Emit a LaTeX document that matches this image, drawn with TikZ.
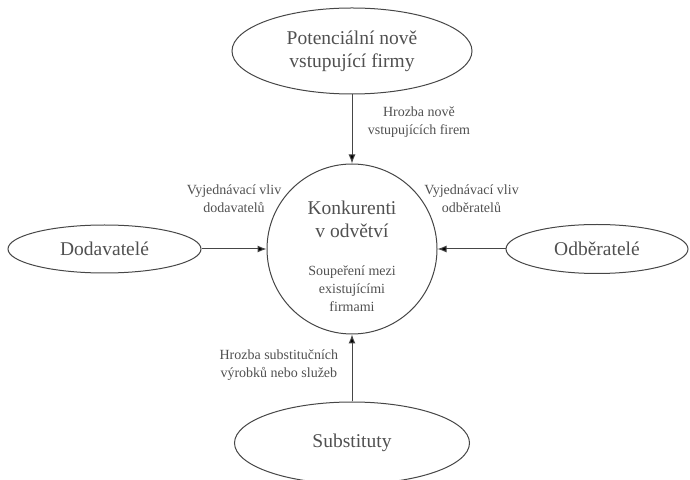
\documentclass[tikz,border=0pt]{standalone}
\usepackage{fontspec}
\setmainfont{Liberation Serif}
\usetikzlibrary{shapes.geometric,positioning,arrows.meta}
\definecolor{textgray}{RGB}{80,80,80}
\definecolor{linegray}{RGB}{70,70,70}
\begin{document}
\begin{tikzpicture}[x=1pt,y=1pt,>={Latex[length=9pt,width=7pt]},
	sila/.style={ellipse,draw=linegray,line width=1pt,text=textgray,align=center,
		font=\fontsize{19.5}{23}\selectfont,inner sep=0pt},
	popis/.style={text=textgray,align=center,font=\fontsize{14}{18}\selectfont},
	sipka/.style={draw=linegray,line width=1pt}]
	\useasboundingbox (0,0) rectangle (690,479);
	\node[circle,draw=linegray,line width=1pt,minimum size=170pt] (konk) at (352,230) {};
	\node[text=textgray,align=center,font=\fontsize{19.5}{23}\selectfont] (konkjm) at ([yshift=30pt]konk.center) {Konkurenti\\v odvětví};
	\node[popis] (souper) at ([yshift=-40pt]konk.center) {Soupeření mezi\\existujícími\\firmami};
	\node[sila,minimum width=240pt,minimum height=86pt] (potenc) [above=69pt of konk] {Potenciální nově\\vstupující firmy};
	\node[sila,minimum width=193pt,minimum height=48pt] (dodav) [left=65pt of konk] {Dodavatelé};
	\node[sila,minimum width=182pt,minimum height=49pt] (odber) [right=68pt of konk] {Odběratelé};
	\node[sila,minimum width=235pt,minimum height=82pt] (subst) [below=67pt of konk] {Substituty};
	\path[->,sipka]
	(potenc) edge node[popis,right=12pt,pos=0.4] {Hrozba nově\\vstupujících firem} (konk)
	(dodav) edge node[popis,above=33pt] {Vyjednávací vliv\\dodavatelů} (konk)
	(odber) edge node[popis,above=33pt] {Vyjednávací vliv\\odběratelů} (konk)
	(subst) edge node[popis,left=10pt,pos=0.55] {Hrozba substitučních\\výrobků nebo služeb} (konk);
\end{tikzpicture}
\end{document}
